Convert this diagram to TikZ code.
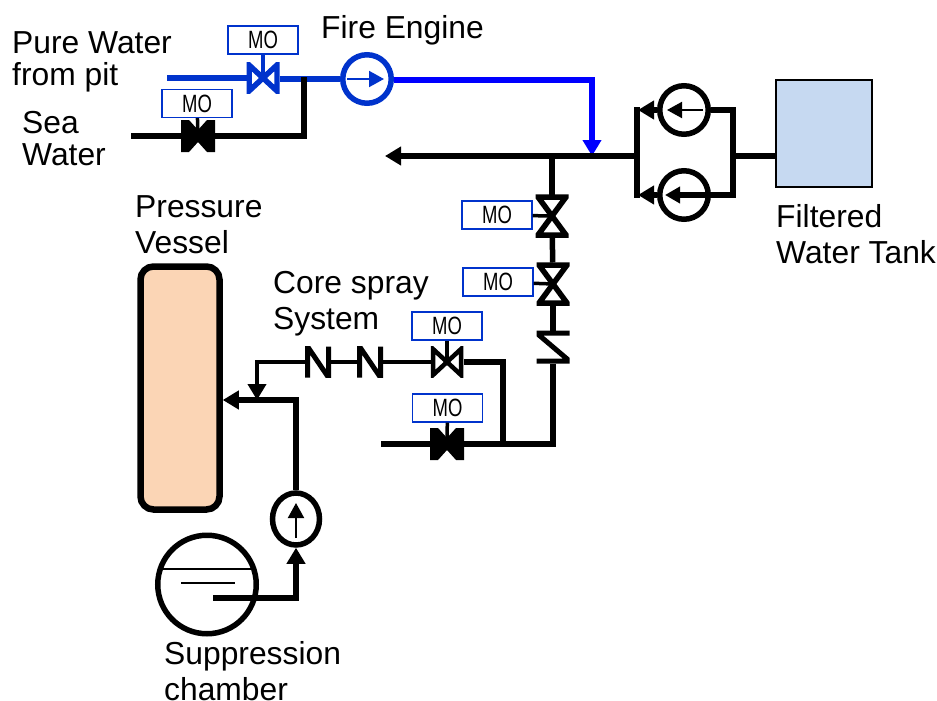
\documentclass[tikz,border=0pt]{standalone}
\usepackage{fontspec}
\setmainfont{Liberation Sans}
\newfontfamily\mofont[FakeStretch=0.74]{Liberation Sans}
\usetikzlibrary{arrows.meta,shapes.geometric}
\definecolor{moblue}{HTML}{0033CC}
\definecolor{tankblue}{HTML}{C6D9F1}
\definecolor{vesselfill}{HTML}{FBD5B5}
\tikzset{
  txt/.style={anchor=west, align=left, inner sep=0pt, font=\fontsize{31.8}{36}\selectfont},
  txttight/.style={txt, font=\fontsize{31.8}{32}\selectfont},
  mobox/.style={draw=moblue, line width=1.4pt, fill=white, inner sep=0pt, minimum width=70pt, minimum height=28pt, font=\mofont\fontsize{25}{25}\selectfont},
  pipe/.style={line width=5.5pt, line join=miter},
  pipethin/.style={line width=4.5pt, line join=miter},
  stem/.style={line width=3.5pt},
  fine/.style={line width=2pt},
  tip/.style={-{Triangle[length=16pt,width=18pt]}},
  tipfine/.style={-{Triangle[length=15pt,width=16pt]}},
  pump/.style={circle, draw, line width=5.5pt, inner sep=0pt, minimum size=48.5pt},
  valveopen/.style={rectangle, inner sep=0pt, outer sep=0pt, minimum width=33pt, minimum height=31pt, path picture={
    \draw[line width=#1, line join=miter] ([xshift=2.5pt,yshift=2.5pt]path picture bounding box.south west) -- ([xshift=2.5pt,yshift=-2.5pt]path picture bounding box.north west) -- ([xshift=-2.5pt,yshift=2.5pt]path picture bounding box.south east) -- ([xshift=-2.5pt,yshift=-2.5pt]path picture bounding box.north east) -- cycle;}},
  valvedown/.style={rectangle, inner sep=0pt, outer sep=0pt, minimum width=33pt, minimum height=43pt, path picture={
    \draw[line width=5.5pt, line join=miter] ([xshift=2.5pt,yshift=-2.5pt]path picture bounding box.north west) -- ([xshift=-2.5pt,yshift=-2.5pt]path picture bounding box.north east) -- ([xshift=2.5pt,yshift=2.5pt]path picture bounding box.south west) -- ([xshift=-2.5pt,yshift=2.5pt]path picture bounding box.south east) -- cycle;}},
  valvefull/.style={rectangle, inner sep=0pt, outer sep=0pt, minimum width=34pt, minimum height=32pt, path picture={
    \fill (path picture bounding box.south west) -- ([xshift=8pt]path picture bounding box.south west) -- ([yshift=-6pt]path picture bounding box.center) -- ([xshift=-8pt]path picture bounding box.south east) -- (path picture bounding box.south east) -- (path picture bounding box.north east) -- ([xshift=-8pt]path picture bounding box.north east) -- ([yshift=6pt]path picture bounding box.center) -- ([xshift=8pt]path picture bounding box.north west) -- (path picture bounding box.north west) -- cycle;}},
  checkh/.style={rectangle, inner sep=0pt, outer sep=0pt, minimum width=26pt, minimum height=31pt, path picture={
    \draw[line width=5pt] ([xshift=2.5pt]path picture bounding box.south west) -- ([xshift=2.5pt]path picture bounding box.north west) -- ([xshift=-2.5pt]path picture bounding box.south east) -- ([xshift=-2.5pt]path picture bounding box.north east);}},
  checkv/.style={rectangle, inner sep=0pt, outer sep=0pt, minimum width=33pt, minimum height=33pt, path picture={
    \draw[line width=5pt] ([yshift=-2.5pt]path picture bounding box.north east) -- ([yshift=-2.5pt]path picture bounding box.north west) -- ([yshift=2.5pt]path picture bounding box.south east) -- ([yshift=2.5pt]path picture bounding box.south west);}},
}
\begin{document}
\begin{tikzpicture}[x=1pt, y=-1pt]
\useasboundingbox (0,0) rectangle (937,701);

% vessels
\node[draw, line width=6.5pt, rounded corners=13pt, fill=vesselfill, minimum width=79pt, minimum height=243pt] (vessel) at (180,388) {};
\node[draw, line width=1.2pt, fill=tankblue, minimum width=96pt, minimum height=107pt] (tank) at (824,133.5) {};
\node[circle, draw, line width=5.5pt, minimum size=98.5pt, inner sep=0pt] (pool) at (207,584.5) {};

% pumps
\node[pump, draw=moblue] (fe) at (367,79) {};
\node[pump] (pa) at (684,110) {};
\node[pump] (pb) at (684,195) {};
\node[pump, ellipse, minimum width=47pt, minimum height=52pt] (pc) at (296,519) {};

% valves
\node[valveopen=5.5pt, moblue] (v1) at (263,78) {};
\node[valvefull] (v2) at (198,136) {};
\node[valvedown] (v3) at (552,216) {};
\node[valvedown] (v4) at (553,284) {};
\node[valveopen=4.5pt] (v5) at (447,362) {};
\node[valvefull] (v6) at (447,444) {};
\node[checkv] (c1) at (553,347) {};
\node[checkh] (c2) at (318,362) {};
\node[checkh] (c3) at (370,362) {};

% MO boxes
\node[mobox] (mo1) at (263,40) {MO};
\node[mobox] (mo2) at (197,103.5) {MO};
\node[mobox] (mo3) at (497,215) {MO};
\node[mobox] (mo4) at (498,282) {MO};
\node[mobox] (mo5) at (447,326) {MO};
\node[mobox] (mo6) at (447.5,408) {MO};

% labels
\node[txttight] (t1) at (12,62) {Pure Water\\from pit};
\node[txttight] (t2) at (22,139) {Sea\\Water};
\node[txt] (t3) at (321,30) {Fire Engine};
\node[txt] (t4) at (135,224.5) {Pressure\\Vessel};
\node[txt] (t5) at (273,304) {Core spray\\System};
\node[txt] (t6) at (776,234) {Filtered\\Water Tank};
\node[txt] (t7) at (164,671.5) {Suppression\\chamber};

% free ends and corners
\coordinate (pure) at (167,78);
\coordinate (sea) at (131,136);
\coordinate (jsea) at (304,136);
\coordinate (jblue) at (304,77);
\coordinate (bluecorner) at (592,80);
\coordinate (bluein) at (592,156);
\coordinate (mainl) at (385,156);
\coordinate (jdown) at (552,156);
\coordinate (jl) at (637,156);
\coordinate (jr) at (733,156);
\coordinate (lowl) at (381,444);
\coordinate (jlow) at (503,444);
\coordinate (lowr) at (553,444);
\coordinate (upr) at (503,362);
\coordinate (upl) at (257,362);
\coordinate (jarrow) at (257,400);
\coordinate (rhr) at (298,400);
\coordinate (poolin) at (213,598);
\coordinate (poolc) at (296,598);
\coordinate (pbtip) at (665,195);
\coordinate (patip) at (667,110);
\coordinate (patail) at (703,110);
\coordinate (pctip) at (296,503);
\coordinate (pctail) at (296,538);
\coordinate (fetail) at (347,79);
\coordinate (fetip) at (384,79);
\coordinate (levela) at (162,569);
\coordinate (levelb) at (252,569);
\coordinate (levelc) at (181,583);
\coordinate (leveld) at (235,583);

% stems
\draw[stem, moblue] (mo1) edge (v1.center);
\draw[stem] (mo2) edge (v2.center);
\draw[stem] (mo3) edge (v3.center);
\draw[stem] (mo4) edge (v4.center);
\draw[stem] (mo5) edge (v5.center);
\draw[stem] (mo6) edge (v6.center);

% blue line
\draw[pipe, moblue] (pure) edge (v1);
\draw[pipe, moblue] (v1.east |- fe) -- (fe);
\draw[pipe, blue, tip] (fe.east |- bluecorner) -- (bluecorner) -- (bluein);
\draw[pipe] (sea) edge (v2);
\draw[pipe] (v2) -- (jsea) -- (jblue);

% main line
\draw[pipe, tip] (jl) -- (mainl);
\draw[pipe] (jr) edge (jr -| tank.west);
\draw[pipe, tipfine] (pa.east) -| (jr |- pb) -- (pbtip);
\draw[pipe, line cap=rect] (jl |- pb) -- (jl |- pa);
\draw[pipe, tip] (pa.west) -- ++(-19,0);
\draw[pipe, tip] (pb.west) -- ++(-19,0);
\draw[fine, tipfine] (patail) -- (patip);

% branch down
\draw[pipe] (jdown) edge (v3);
\draw[pipe] (v3) edge (v4);
\draw[pipe] (v4) edge (c1);
\draw[pipe] (c1) -- (lowr) -- (v6);
\draw[pipe] (lowl) edge (v6);
\draw[pipe] (jlow) -- (upr) -- (v5);
\draw[pipethin] (v5) edge (c3);
\draw[pipethin] (c3) edge (c2);
\draw[pipethin, tip] (c2) -- (upl) -- (jarrow);

% injection line
\draw[pipe, tip] (pc) |- (vessel.east |- rhr);
\draw[pipe, tip] (poolin) -- (poolc) -- (pc.south);
\draw[fine, tipfine] (pctail) -- (pctip);
\draw[fine, moblue, tipfine] (fetail) -- (fetip);

% water level
\draw[fine] (levela) -- (levelb);
\draw[fine] (levelc) -- (leveld);
\end{tikzpicture}
\end{document}
